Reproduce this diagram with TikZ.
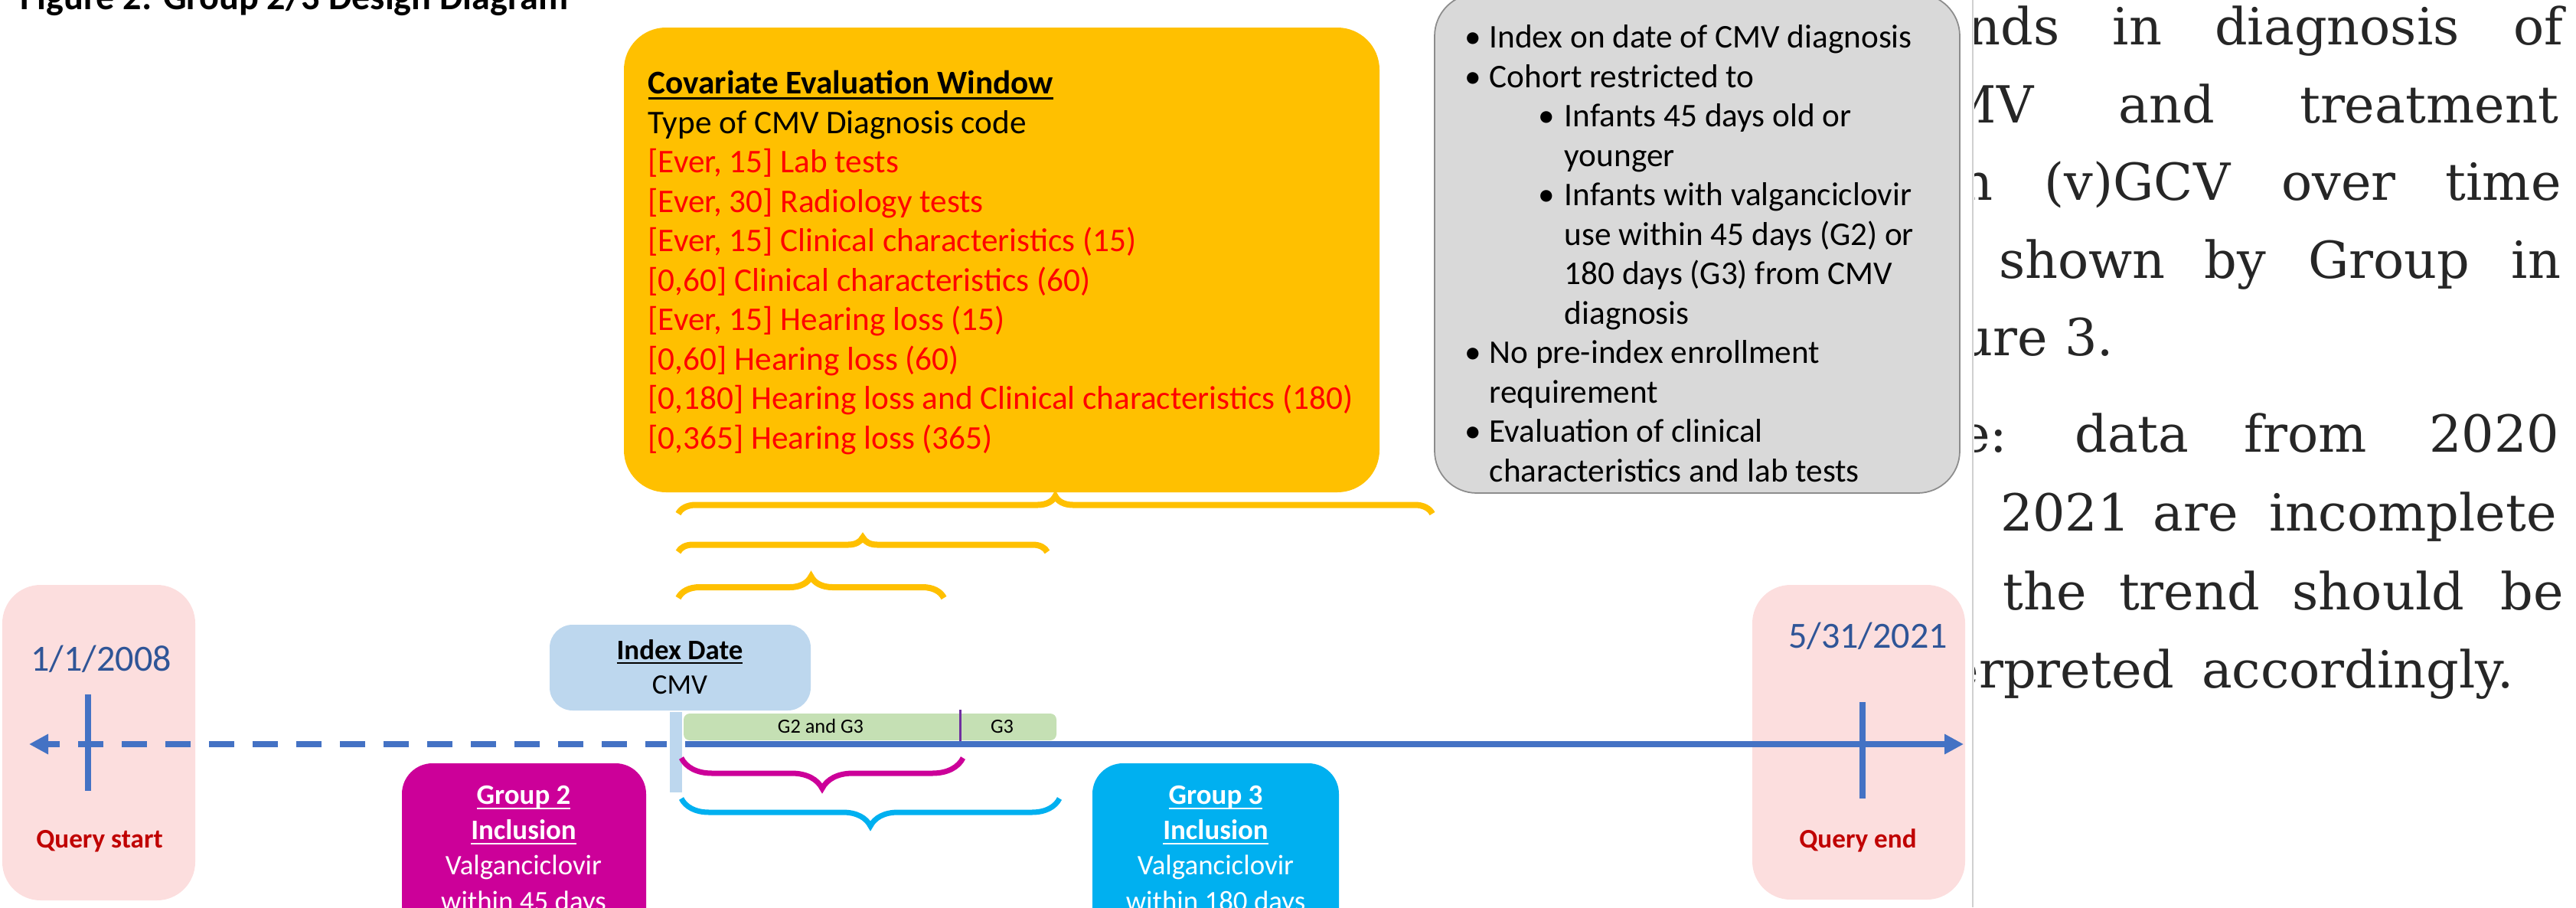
\documentclass[tikz,border=0pt]{standalone}
\usepackage{fontspec}
\setmainfont{Carlito}
\newfontfamily\parafont{DejaVu Serif}
\usetikzlibrary{arrows.meta, positioning, decorations.pathreplacing}
\definecolor{cgold}{HTML}{FFC000}
\definecolor{cred}{HTML}{FF0000}
\definecolor{cgreybox}{HTML}{D9D9D9}
\definecolor{cgreyline}{HTML}{8C8C8C}
\definecolor{caxis}{HTML}{4472C4}
\definecolor{cpink}{HTML}{FCDEDE}
\definecolor{cdate}{HTML}{2F5597}
\definecolor{cquery}{HTML}{C00000}
\definecolor{cindex}{HTML}{BDD7EE}
\definecolor{cgreen}{HTML}{C5E0B4}
\definecolor{cpurple}{HTML}{7030A0}
\definecolor{cmag}{HTML}{CC0099}
\definecolor{ccyan}{HTML}{00B0F0}
\definecolor{cpara}{HTML}{262626}
\definecolor{cdiv}{HTML}{D0D0D0}
\newcommand{\uln}[1]{\setbox0=\hbox{#1}\rlap{\rule[-0.17em]{\wd0}{0.07em}}\box0}
\tikzset{
  panel/.style={fill=#1, rounded corners=0.55cm, inner sep=0pt},
  boxtext/.style={font=\fontsize{12.3}{14.65}\selectfont, align=left, anchor=base west, inner sep=0pt},
  grptext/.style={font=\fontsize{10.5}{13.1}\selectfont, text=white, align=center, anchor=base, inner sep=0pt},
  datetext/.style={font=\fontsize{13.7}{16}\selectfont, text=cdate, anchor=base, inner sep=0pt},
  querytext/.style={font=\bfseries\fontsize{10}{12}\selectfont, text=cquery, anchor=base, inner sep=0pt},
  paraword/.style={font=\parafont\fontsize{19}{23}\selectfont, text=cpara, inner sep=0pt},
  curly/.style={decorate, decoration={brace, amplitude=#1}, line width=0.07cm},
  timeline/.style={draw=caxis, line width=0.08cm},
  axistip/.style={-{Triangle[length=0.25cm, width=0.25cm]}},
}

\begin{document}
\begin{tikzpicture}
  \useasboundingbox (0,0) rectangle (33.65,11.85);
  \clip (0,0) rectangle (33.65,11.85);
  % title, cut at the top edge
  \node[font=\bfseries\fontsize{13.7}{16}\selectfont, anchor=base west, inner sep=0pt] (title) at (0.26,11.72) {Figure 2: Group 2/3 Design Diagram};
  % covariate window (multi-line nodes sit on their last baseline)
  \node[panel=cgold, minimum width=9.87cm, minimum height=6.07cm] (cov) at (13.085,8.455) {};
  \node[boxtext] (covtext) at (8.46,5.99) {\uln{\textbf{Covariate Evaluation Window}}\\
    Type of CMV Diagnosis code\\
    \textcolor{cred}{[Ever, 15] Lab tests}\\
    \textcolor{cred}{[Ever, 30] Radiology tests}\\
    \textcolor{cred}{[Ever, 15] Clinical characteristics (15)}\\
    \textcolor{cred}{[0,60] Clinical characteristics (60)}\\
    \textcolor{cred}{[Ever, 15] Hearing loss (15)}\\
    \textcolor{cred}{[0,60] Hearing loss (60)}\\
    \textcolor{cred}{[0,180] Hearing loss and Clinical characteristics (180)}\\
    \textcolor{cred}{[0,365] Hearing loss (365)}};
  % cohort notes
  \node[panel=cgreybox, draw=cgreyline, line width=0.5pt, minimum width=6.86cm, minimum height=6.52cm] (notes) at (22.17,8.67) {};
  \node[boxtext] (notetext) at (19.13,5.56) {\makebox[0.32cm][l]{\textbullet}Index on date of CMV diagnosis\\
    \makebox[0.32cm][l]{\textbullet}Cohort restricted to\\
    \hspace*{0.96cm}\makebox[0.34cm][l]{\textbullet}Infants 45 days old or\\
    \hspace*{1.30cm}younger\\
    \hspace*{0.96cm}\makebox[0.34cm][l]{\textbullet}Infants with valganciclovir\\
    \hspace*{1.30cm}use within 45 days (G2) or\\
    \hspace*{1.30cm}180 days (G3) from CMV\\
    \hspace*{1.30cm}diagnosis\\
    \makebox[0.32cm][l]{\textbullet}No pre-index enrollment\\
    \hspace*{0.32cm}requirement\\
    \makebox[0.32cm][l]{\textbullet}Evaluation of clinical\\
    \hspace*{0.32cm}characteristics and lab tests};
  % braces under the window
  \draw[curly=0.23cm, cgold, line width=0.08cm] (8.86,5.14) -- (18.71,5.14);
  \draw[curly=0.19cm, cgold, line width=0.08cm] (8.86,4.64) -- (13.68,4.64);
  \draw[curly=0.28cm, cgold, line width=0.08cm] (8.86,4.04) -- (12.33,4.04);
  % query period
  \node[panel=cpink, rounded corners=0.5cm, minimum width=2.52cm, minimum height=4.12cm] (qstart) at (1.29,2.15) {};
  \node[panel=cpink, rounded corners=0.5cm, minimum width=2.78cm, minimum height=4.11cm] (qend) at (24.28,2.155) {};
  \node[datetext] (dstart) at (1.32,3.09) {1/1/2008};
  \node[datetext] (dend) at (24.40,3.39) {5/31/2021};
  \node[querytext] (qslabel) at (1.30,0.78) {Query start};
  \node[querytext] (qelabel) at (24.27,0.78) {Query end};
  % timeline
  \coordinate (tleft) at (0.38,2.13);
  \coordinate (tright) at (25.65,2.13);
  \coordinate (tindex) at (8.83,2.13);
  \draw[timeline, axistip, dash pattern=on 0.33cm off 0.24cm, dash phase=0.50cm] (tindex) -- (tleft);
  \draw[timeline, axistip] (tindex) -- (tright);
  \draw[timeline] (1.15,2.78) -- (1.15,1.52);
  \draw[timeline] (24.33,2.68) -- (24.33,1.42);
  % index date
  \node[fill=cindex, draw=white, line width=0.04cm, minimum width=0.20cm, minimum height=1.09cm, inner sep=0pt] (stem) at (8.83,2.025) {};
  \node[panel=cindex, rounded corners=0.3cm, minimum width=3.41cm, minimum height=1.12cm] (idx) at (8.885,3.13) {};
  \node[grptext, text=black] (idxtitle) at (8.88,3.24) {\uln{\textbf{Index Date}}};
  \node[grptext, text=black] (idxcmv) at (8.88,2.79) {CMV};
  % exposure windows
  \node[panel=cgreen, rounded corners=0.08cm, minimum width=4.87cm, minimum height=0.35cm] (gbar) at (11.365,2.355) {};
  \node[font=\fontsize{7.5}{9}\selectfont, anchor=base, inner sep=0pt] (g23) at (10.72,2.28) {G2 and G3};
  \node[font=\fontsize{7.5}{9}\selectfont, anchor=base, inner sep=0pt] (g3only) at (13.09,2.28) {G3};
  \draw[cpurple, line width=0.03cm] (12.54,2.58) -- (12.54,2.17);
  \draw[curly=0.40cm, cmag] (12.58,1.95) -- (8.90,1.95);
  \draw[curly=0.36cm, ccyan] (13.84,1.42) -- (8.90,1.42);
  % group boxes, cut at the bottom edge
  \node[panel=cmag, rounded corners=0.4cm, minimum width=3.19cm, minimum height=2.6cm] (grp2) at (6.845,0.58) {};
  \node[grptext] (grp2text) at (6.84,-0.04) {\uln{\textbf{Group 2}}\\\uln{\textbf{Inclusion}}\\Valganciclovir\\within 45 days};
  \node[panel=ccyan, rounded corners=0.4cm, minimum width=3.22cm, minimum height=2.6cm] (grp3) at (15.88,0.58) {};
  \node[grptext] (grp3text) at (15.88,-0.04) {\uln{\textbf{Group 3}}\\\uln{\textbf{Inclusion}}\\Valganciclovir\\within 180 days};
  % page edge and the cut paragraph beside it
  \draw[cdiv, line width=0.02cm] (25.77,0) -- (25.77,11.85);
  \begin{scope}
    \clip (25.79,0) rectangle (33.65,11.85);
    \foreach \a/\x/\y/\w [count=\n] in {base east/26.91/11.27/nds, base/27.92/11.27/in, base/30.53/11.27/diagnosis, base/33.16/11.27/of,
        base east/26.57/10.25/MV, base/28.30/10.25/and, base/31.73/10.25/treatment,
        base east/26.04/9.24/h, base/27.92/9.24/{(v)GCV}, base/30.55/9.24/over, base/32.70/9.24/time,
        base/27.20/8.22/shown, base/29.20/8.22/by, base/31.21/8.22/Group, base/33.13/8.22/in,
        base east/26.76/7.21/ure, base/27.29/7.21/3.,
        base east/26.23/5.95/e:, base/27.85/5.95/data, base/30.12/5.95/from, base/32.58/5.95/2020,
        base/26.98/4.92/2021, base/28.68/4.92/are, base/31.52/4.92/incomplete,
        base/26.71/3.89/the, base/28.60/3.89/trend, base/31.07/3.89/should, base/33.08/3.89/be,
        base east/28.41/2.87/erpreted, base/30.80/2.87/accordingly.}
      \node[paraword, anchor=\a] (word\n) at (\x,\y) {\w};
  \end{scope}
\end{tikzpicture}
\end{document}
